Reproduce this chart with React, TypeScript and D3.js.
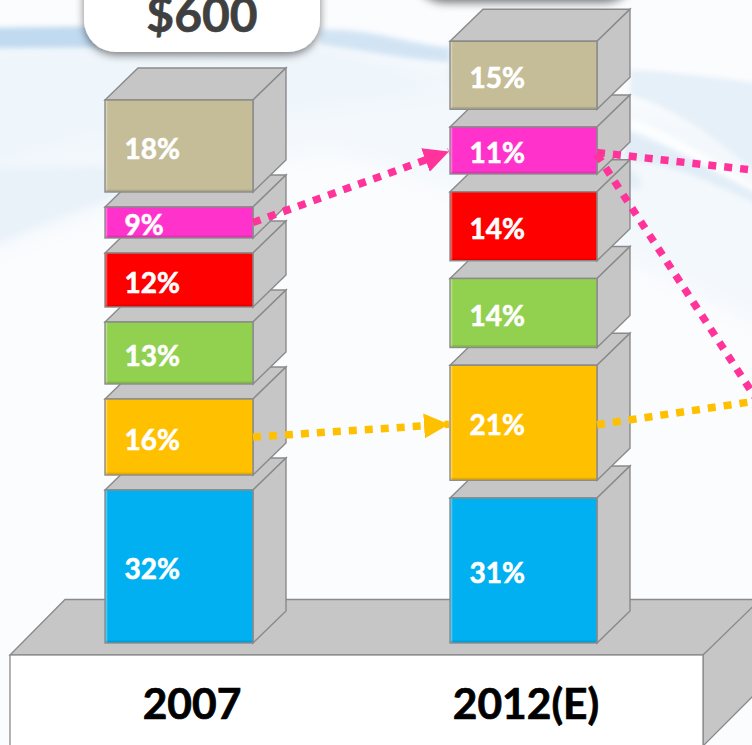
import React from "react";
import * as d3 from "d3";

const years = ["2007", "2012(E)"];
const totals = ["$600", ""];
const colors = ["#00B0F0", "#FFC000", "#92D050", "#FF0000", "#FF33CC", "#C4BD97"];
const labels2007 = ["32%", "16%", "13%", "12%", "9%", "18%"];
const labels2012 = ["31%", "21%", "14%", "14%", "11%", "15%"];
// Drawn block heights (units of the stacked axis)
const drawn2007 = [30.6, 15.2, 12.4, 10.8, 6.2, 18.4];
const drawn2012 = [29, 23, 13.8, 13.8, 9.4, 13.6];
const gaps = [3, 3.55];

const W = 752, H = 745;
const x = d3.scalePoint<string>().domain(years).range([105, 450]);
const y = d3.scaleLinear().domain([0, 120]).range([643, 43]);
const barW = 148, dx = 33, dy = 32;
const font = "Lato, 'Open Sans', sans-serif";

type Seg = { i: number; x0: number; x1: number; y0: number; y1: number; label: string };
function layout(col: number): Seg[] {
  const vals = col === 0 ? drawn2007 : drawn2012;
  const labs = col === 0 ? labels2007 : labels2012;
  const xl = x(years[col])!;
  let cum = 0;
  return vals.map((v, i) => {
    const s = { i, x0: xl, x1: xl + barW - (col ? 1 : 0), y0: y(cum), y1: y(cum + v), label: labs[i] };
    cum += v + gaps[col];
    return s;
  });
}
const cols = [layout(0), layout(1)];
const mid = (s: Seg) => (s.y0 + s.y1) / 2;

const poly = (pts: [number, number][]) => d3.line()(pts)! + "Z";
const EDGE = "#8A8A8A", SIDE = "#C6C6C6";

function Block({ s }: { s: Seg }) {
  return (
    <g>
      <path d={poly([[s.x0, s.y1], [s.x0 + dx, s.y1 - dy], [s.x1 + dx, s.y1 - dy], [s.x1, s.y1]])} fill={SIDE} stroke={EDGE} strokeWidth={1.4} />
      <path d={poly([[s.x1, s.y1], [s.x1 + dx, s.y1 - dy], [s.x1 + dx, s.y0 - dy], [s.x1, s.y0]])} fill={SIDE} stroke={EDGE} strokeWidth={1.4} />
      <rect x={s.x0} y={s.y1} width={s.x1 - s.x0} height={s.y0 - s.y1} fill={colors[s.i]} stroke={EDGE} strokeWidth={1.4} />
      <rect x={s.x0 + 0.7} y={s.y1 + 0.7} width={1.6} height={s.y0 - s.y1 - 1.4} fill="#fff" opacity={0.3} />
      <rect x={s.x0 + 0.7} y={s.y0 - 2.4} width={s.x1 - s.x0 - 1.4} height={1.7} fill="#000" opacity={0.1} />
      <text x={s.x0 + 19.5} y={mid(s) + 12.5} fontFamily={font} fontWeight={700} fontSize={28} fill="#fff" stroke="#fff" strokeWidth={0.6}>{s.label}</text>
    </g>
  );
}

const PINK = "#FF3399", GOLD = "#FFC000";
const linkLine = (a: [number, number], b: [number, number]) => d3.line()([a, b])!;

export default function App() {
  const m1 = cols[0][4], o1 = cols[0][1], m2 = cols[1][4], o2 = cols[1][1];
  return (
    <svg width={W} height={H} viewBox={`0 0 ${W} ${H}`} style={{ position: "absolute", left: 0, top: 0, display: "block" }}>
      <defs>
        <filter id="b0" x="-20%" y="-50%" width="140%" height="200%"><feGaussianBlur stdDeviation="2.5" /></filter>
        <filter id="b1" x="-20%" y="-100%" width="140%" height="300%"><feGaussianBlur stdDeviation="4" /></filter>
        <filter id="b2" x="-20%" y="-100%" width="140%" height="300%"><feGaussianBlur stdDeviation="12" /></filter>
        <filter id="sh" x="-20%" y="-50%" width="140%" height="200%"><feDropShadow dx="0" dy="3" stdDeviation="4" floodColor="#000" floodOpacity="0.5" /></filter>
        <marker id="hp" viewBox="0 0 10 10" refX="10" refY="5" markerUnits="userSpaceOnUse" markerWidth="25" markerHeight="25" orient="auto">
          <path d="M0,0L10,5L0,10Z" fill={PINK} />
        </marker>
        <marker id="hg" viewBox="0 0 10 10" refX="10" refY="5" markerUnits="userSpaceOnUse" markerWidth="25" markerHeight="25" orient="auto">
          <path d="M0,0L10,5L0,10Z" fill={GOLD} />
        </marker>
      </defs>
      <rect width={W} height={H} fill="#FBFCFE" />
      {/* background swooshes */}
      <path d="M-20,40 L340,40 C420,50 500,90 640,110 L770,130 L770,330 C640,260 480,190 330,150 C200,170 80,220 -20,255 Z" fill="#F3F8FC" filter="url(#b2)" />
      <path d="M-20,50 L300,40 L480,90 L300,110 L80,140 L-20,170 Z" fill="#EEF5FB" filter="url(#b2)" />
      <path d="M-20,170 L-20,252 C60,215 130,190 200,172 C130,165 50,165 -20,170 Z" fill="#E9F2F9" filter="url(#b1)" />
      <path d="M-20,28 C80,26 180,26 260,28 L260,44 C180,46 80,48 -20,48 Z" fill="#BBD7EE" opacity={0.9} filter="url(#b0)" />
      <path d="M320,30 C370,28 400,42 450,48 L450,62 C410,60 360,50 320,44 Z" fill="#C9DFF2" opacity={0.8} filter="url(#b0)" />
      <path d="M450,40 C530,60 590,130 640,180 L640,190 C590,170 520,110 450,80 Z" fill="#DCE9F5" opacity={0.8} filter="url(#b1)" />
      <path d="M630,70 C680,72 720,78 770,85 L770,185 C720,140 680,110 630,95 Z" fill="#E6F0F8" filter="url(#b0)" />
      <path d="M630,130 C680,145 720,185 770,212 L770,195 C720,165 680,135 630,118 Z" fill="#FFFFFF" opacity={0.75} filter="url(#b0)" />
      <path d="M625,160 C680,165 720,185 770,212 L770,200 C720,175 680,150 625,130 Z" fill="#DDEAF5" opacity={0.8} filter="url(#b0)" />
      {/* total pills */}
      <rect x={84} y={-40} width={236} height={92} rx={32} fill="#fff" filter="url(#sh)" />
      <rect x={413} y={-92} width={223} height={92} rx={32} fill="#fff" filter="url(#sh)" />
      <text x={202} y={32} textAnchor="middle" fontFamily={font} fontWeight={700} fontSize={48} fill="#404040" stroke="#404040" strokeWidth={0.6}>{totals[0]}</text>
      {/* plinth */}
      <path d={poly([[10, 655], [65, 599.5], [770, 599.5], [703, 655]])} fill={SIDE} stroke={EDGE} strokeWidth={1.3} />
      <path d={poly([[703, 655], [760, 599.5], [760, 689], [703, 746]])} fill={SIDE} stroke={EDGE} strokeWidth={1.3} />
      <rect x={10} y={655} width={693} height={100} fill="#fff" stroke={EDGE} strokeWidth={1.3} />
      {/* stacks */}
      {cols.map((segs, c) => <g key={c}>{segs.map(s => <Block key={s.i} s={s} />)}</g>)}
      {/* year labels */}
      {years.map((yr, c) => (
        <text key={yr} x={x(yr)! + (c ? 76 : 87)} y={719} textAnchor="middle" fontFamily={font} fontWeight={700} fontSize={42.5} fill="#000" stroke="#000" strokeWidth={0.7}>{yr}</text>
      ))}
      {/* share-shift connectors */}
      <g fill="none" strokeWidth={7.5} strokeDasharray="8 8">
        <path d={linkLine([m1.x1, mid(m1)], [m2.x0 - 1, mid(m2) + 1])} stroke={PINK} markerEnd="url(#hp)" />
        <path d={linkLine([o1.x1, mid(o1)], [o2.x0 - 1, mid(o2) + 1.5])} stroke={GOLD} markerEnd="url(#hg)" />
        <path d={linkLine([m2.x1, mid(m2) + 2], [770, 172])} stroke={PINK} />
        <path d={linkLine([m2.x1, mid(m2) + 4], [770, 420])} stroke={PINK} />
        <path d={linkLine([o2.x1, mid(o2) + 2], [770, 399])} stroke={GOLD} />
      </g>
    </svg>
  );
}
